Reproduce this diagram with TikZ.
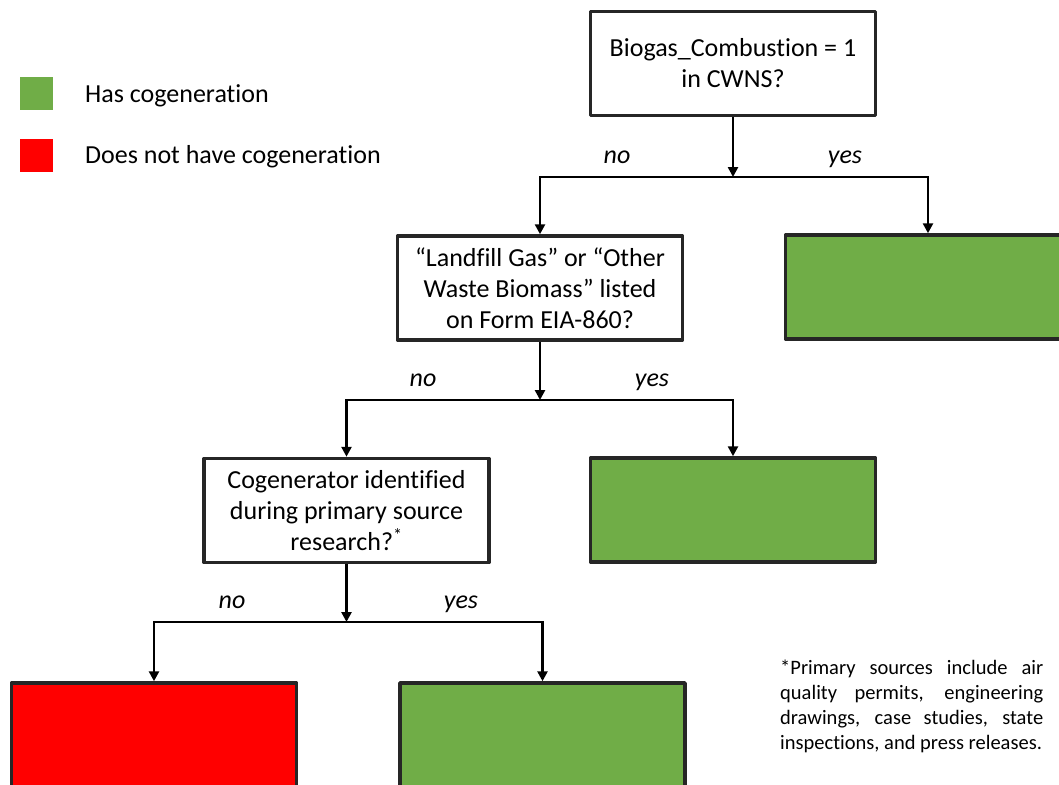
\documentclass[tikz,border=0pt]{standalone}
\usepackage{fontspec}
\setmainfont{Carlito}[Ligatures={NoCommon}]
\usetikzlibrary{arrows.meta}
\definecolor{cgreen}{HTML}{70AD47}
\definecolor{cred}{HTML}{FF0000}
\begin{document}
\begin{tikzpicture}[x=1pt,y=-1pt,
  qbox/.style={draw=black!85,line width=3.5pt,line join=round,fill=white,minimum width=285pt,minimum height=104pt,align=center,inner sep=0pt,font=\fontsize{26}{31}\selectfont},
  rbox/.style={draw=black!85,line width=3.5pt,line join=round,minimum width=285pt,minimum height=104pt,inner sep=0pt},
  conn/.style={draw=black,line width=2.5pt,line join=miter},
  arr/.style={conn,-{Triangle[length=10pt,width=10pt]}},
  barr/.style={conn,{Triangle[length=10pt,width=10pt]}-{Triangle[length=10pt,width=10pt]}},
  lbl/.style={font=\fontsize{26}{30}\selectfont\itshape,inner sep=0pt,anchor=base},
  legtxt/.style={font=\fontsize{26}{30}\selectfont,anchor=base west,inner sep=0pt}]
\useasboundingbox (0,0) rectangle (1059,784);
% legend
\node[fill=cgreen,minimum width=33pt,minimum height=33pt,inner sep=0pt] (lg) at (36.5,93.5) {};
\node[fill=cred,minimum width=33pt,minimum height=33pt,inner sep=0pt] (lr) at (36.5,155.5) {};
\node[legtxt] (lgt) at (85,102) {Has cogeneration};
\node[legtxt] (lrt) at (85,163.5) {Does not have cogeneration};
% level 1
\node[qbox] (q1) at (733,63.5) {Biogas\_Combustion = 1\\in CWNS?};
\node[rbox,fill=cgreen] (g1) at (928,287) {};
\node[qbox] (q2) at (540,288) {“Landfill Gas” or “Other\\Waste Biomass” listed\\on Form EIA-860?};
\coordinate (j1) at (733,177);
\coordinate (l1) at (540,177);
\coordinate (r1) at (928,177);
\draw[arr] (q1.south) -- (j1);
\draw[barr] (q2.north) -- (l1) -- (r1) -- (g1.north);
\node[lbl] (no1) at (617,163) {no};
\node[lbl] (yes1) at (845,163) {yes};
% level 2
\node[rbox,fill=cgreen] (g2) at (733,510) {};
\node[qbox] (q3) at (346.5,510.5) {Cogenerator identified\\during primary source\\research?\textsuperscript{*}};
\coordinate (j2) at (540,400);
\coordinate (l2) at (346.5,400);
\coordinate (r2) at (733,400);
\draw[arr] (q2.south) -- (j2);
\draw[barr] (q3.north) -- (l2) -- (r2) -- (g2.north);
\node[lbl] (no2) at (423,386) {no};
\node[lbl] (yes2) at (652,386) {yes};
% level 3
\node[rbox,fill=cred] (red3) at (154,735) {};
\node[rbox,fill=cgreen] (g3) at (542.5,735) {};
\coordinate (j3) at (346.5,622);
\coordinate (l3) at (154,622);
\coordinate (r3) at (542.5,622);
\draw[arr] (q3.south) -- (j3);
\draw[barr] (red3.north) -- (l3) -- (r3) -- (g3.north);
\node[lbl] (no3) at (232,608) {no};
\node[lbl] (yes3) at (461,608) {yes};
% footnote
\node[anchor=north west,inner sep=0pt,align=left,font=\fontsize{20.5}{25}\selectfont] (fn) at (780,660) {%
\makebox[263pt][s]{*Primary sources include air}\\
\makebox[263pt][s]{quality permits, engineering}\\
\makebox[263pt][s]{drawings, case studies, state}\\
\makebox[263pt][l]{inspections, and press releases.}};
\end{tikzpicture}
\end{document}
